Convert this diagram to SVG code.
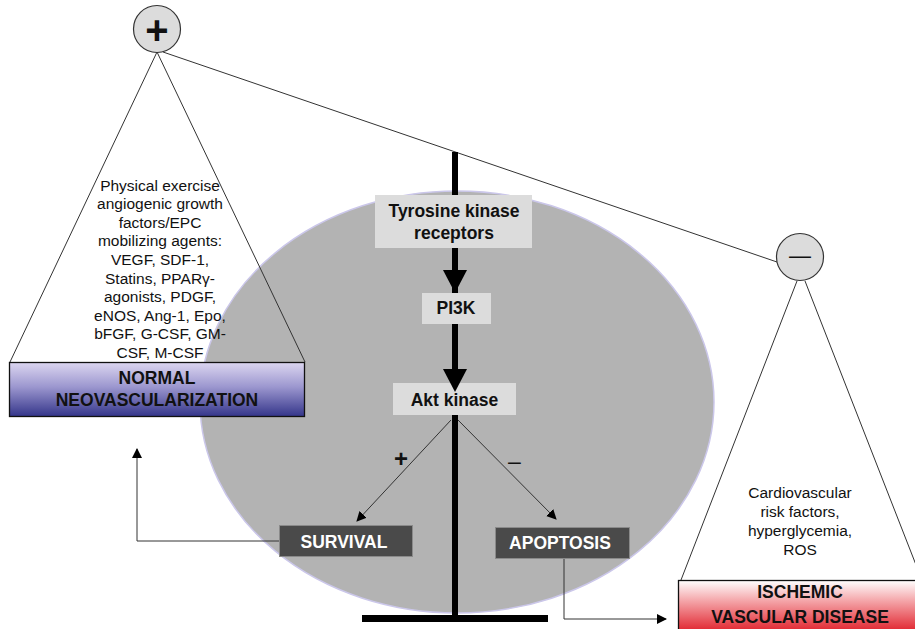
<svg xmlns="http://www.w3.org/2000/svg" width="915" height="629" viewBox="0 0 915 629">
<style>
.ln{stroke:#333;stroke-width:1;fill:none}
.t{font-family:"Liberation Sans",Arial,sans-serif;font-size:15.5px;fill:#111;text-anchor:middle}
.b{font-family:"Liberation Sans",Arial,sans-serif;font-size:17.5px;font-weight:bold;fill:#111;text-anchor:middle}
.w{fill:#fff}
.lbox{fill:#dcdcdc}
.dbox{fill:#4a4a4a;stroke:#8a8a8a;stroke-width:1}
.circ{fill:#dcdcdc;stroke:#333;stroke-width:1.2}
</style>
<defs>
<linearGradient id="gBlue" x1="0" y1="0" x2="0" y2="1">
<stop offset="0" stop-color="#dcd6f0"/>
<stop offset="0.45" stop-color="#9c97cf"/>
<stop offset="1" stop-color="#34358a"/>
</linearGradient>
<linearGradient id="gRed" x1="0" y1="0" x2="0" y2="1">
<stop offset="0" stop-color="#ffffff"/>
<stop offset="0.4" stop-color="#f4a3a7"/>
<stop offset="1" stop-color="#e0202a"/>
</linearGradient>
<marker id="ah" markerWidth="10" markerHeight="10" refX="9" refY="5" orient="auto" markerUnits="userSpaceOnUse">
<path d="M0,0 L10,5 L0,10 z" fill="#000"/>
</marker>
</defs>

<ellipse id="cell" cx="457" cy="402" rx="257" ry="211" fill="#b3b3b3" stroke="#cbc7ea" stroke-width="1.5"/>

<g id="connectors">
<line class="ln" x1="163" y1="52" x2="777" y2="262"/>
<rect x="452" y="152" width="6" height="468" fill="#000"/>
<rect x="362" y="615" width="186" height="7" fill="#000"/>
<line class="ln" x1="451" y1="420" x2="357" y2="521" marker-end="url(#ah)"/>
<line class="ln" x1="458" y1="420" x2="556" y2="519" marker-end="url(#ah)"/>
<polyline class="ln" points="283,541 137,541 137,449" marker-end="url(#ah)"/>
<polyline class="ln" points="564,558 564,619 666,619" marker-end="url(#ah)"/>
</g>

<g id="plus">
<circle class="circ" cx="157" cy="29" r="23.5"/>
<text x="157" y="44" font-family="Liberation Sans,Arial,sans-serif" font-size="40" font-weight="bold" text-anchor="middle" fill="#111">+</text>
</g>

<g id="minus">
<circle class="circ" cx="800" cy="257" r="23.5"/>
<text x="800" y="263" font-family="Liberation Sans,Arial,sans-serif" font-size="22" text-anchor="middle" fill="#111">—</text>
</g>

<g id="left-triangle">
<polyline class="ln" points="10,362 157,52 305,362"/>
<text class="t" x="160" y="190.5">Physical exercise</text>
<text class="t" x="160" y="209.1">angiogenic growth</text>
<text class="t" x="160" y="227.7">factors/EPC</text>
<text class="t" x="160" y="246.3">mobilizing agents:</text>
<text class="t" x="160" y="264.9">VEGF, SDF-1,</text>
<text class="t" x="160" y="283.5">Statins, PPARγ-</text>
<text class="t" x="160" y="302.1">agonists, PDGF,</text>
<text class="t" x="160" y="320.7">eNOS, Ang-1, Epo,</text>
<text class="t" x="160" y="339.3">bFGF, G-CSF, GM-</text>
<text class="t" x="160" y="357.9">CSF, M-CSF</text>
</g>

<g id="normal">
<rect x="9.5" y="362.5" width="295" height="54" fill="url(#gBlue)" stroke="#111" stroke-width="1.3"/>
<text class="b" x="157" y="384">NORMAL</text>
<text class="b" x="157" y="406">NEOVASCULARIZATION</text>
</g>

<g id="right-triangle">
<polyline class="ln" points="681,580 797,281"/>
<polyline class="ln" points="805,281 918,570"/>
<text class="t" x="800" y="498">Cardiovascular</text>
<text class="t" x="800" y="517">risk factors,</text>
<text class="t" x="800" y="536">hyperglycemia,</text>
<text class="t" x="800" y="555">ROS</text>
</g>

<g id="ischemic">
<rect x="678.5" y="580.5" width="240" height="52" fill="url(#gRed)" stroke="#111" stroke-width="1.3"/>
<text class="b" x="800" y="598">ISCHEMIC</text>
<text class="b" x="800" y="623">VASCULAR DISEASE</text>
</g>

<g id="tyrosine">
<rect class="lbox" x="375" y="195" width="157" height="53"/>
<text class="b" x="454" y="217">Tyrosine kinase</text>
<text class="b" x="454" y="239">receptors</text>
</g>

<g id="pi3k">
<rect class="lbox" x="422" y="293" width="69" height="31"/>
<text class="b" x="456" y="314">PI3K</text>
<polygon points="443,270 467,270 455,293" fill="#000"/>
</g>

<g id="akt">
<rect class="lbox" x="393" y="383" width="123" height="32"/>
<text class="b" x="454.5" y="406">Akt kinase</text>
<polygon points="443,369 467,369 455,392" fill="#000"/>
</g>

<g id="survival">
<rect class="dbox" x="279.5" y="525.5" width="133" height="31"/>
<text class="b w" x="344" y="548">SURVIVAL</text>
</g>

<g id="apoptosis">
<rect class="dbox" x="495.5" y="527.5" width="134" height="31"/>
<text class="b w" x="560" y="549">APOPTOSIS</text>
</g>

<text x="401" y="467" font-family="Liberation Sans,Arial,sans-serif" font-size="24" font-weight="bold" text-anchor="middle" fill="#111">+</text>
<text x="514.5" y="469" font-family="Liberation Sans,Arial,sans-serif" font-size="23" text-anchor="middle" fill="#111">–</text>
</svg>
